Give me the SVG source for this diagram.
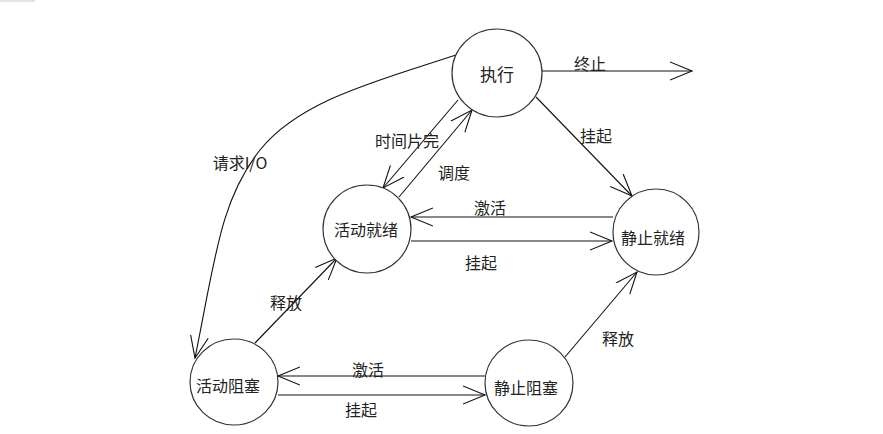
<svg xmlns="http://www.w3.org/2000/svg" width="883" height="434" viewBox="0 0 883 434">
<defs>
<style>
.node ellipse{fill:#fff;stroke:#333;stroke-width:1.2}
text{font-family:"Noto Sans CJK SC","Liberation Sans",sans-serif;font-size:16px;fill:#222;text-anchor:middle;dominant-baseline:central}
.edge{fill:none;stroke:#111;stroke-width:1.1;marker-end:url(#arr)}
</style>
<marker id="arr" markerUnits="userSpaceOnUse" markerWidth="26" markerHeight="22" refX="22" refY="10" orient="auto">
<path d="M0,1 L22,10 L0,19" fill="none" stroke="#111" stroke-width="1.1"/>
</marker>
</defs>
<rect x="0" y="0" width="35" height="2" fill="#dfe5ec"/>
<g id="connectors">
<path class="edge" d="M541,71 L692,71"/>
<text x="590" y="63">终止</text>
<path class="edge" d="M536,97 L632,196"/>
<text x="596" y="135">挂起</text>
<path class="edge" d="M458,100 L383,188"/>
<text x="407" y="140">时间片完</text>
<path class="edge" d="M399,197 L472,110"/>
<text x="454" y="172">调度</text>
<path class="edge" d="M613,217 L411,217"/>
<text x="490" y="207">激活</text>
<path class="edge" d="M411,241 L612,241"/>
<text x="481" y="262">挂起</text>
<path class="edge" d="M456,55 C380,80 300,100 260,150 C220,200 215,260 195,358"/>
<text x="240" y="162">请求I/O</text>
<path class="edge" d="M255,343 L337,258"/>
<text x="286" y="302">释放</text>
<path class="edge" d="M485,376 L278,376"/>
<text x="368" y="369">激活</text>
<path class="edge" d="M278,395 L485,395"/>
<text x="361" y="409">挂起</text>
<path class="edge" d="M565,357 L637,272"/>
<text x="618" y="338">释放</text>
</g>
<g id="n_exec" class="node"><ellipse cx="497" cy="73" rx="45" ry="44"/><text x="497" y="73" style="font-size:17px">执行</text></g>
<g id="n_active_ready" class="node"><ellipse cx="367" cy="229" rx="44" ry="44"/><text x="366" y="229">活动就绪</text></g>
<g id="n_static_ready" class="node"><ellipse cx="656" cy="232" rx="43" ry="43"/><text x="653" y="237">静止就绪</text></g>
<g id="n_active_block" class="node"><ellipse cx="234" cy="382" rx="44" ry="43"/><text x="228" y="385">活动阻塞</text></g>
<g id="n_static_block" class="node"><ellipse cx="529" cy="383" rx="44" ry="43"/><text x="526" y="387">静止阻塞</text></g>
</svg>
